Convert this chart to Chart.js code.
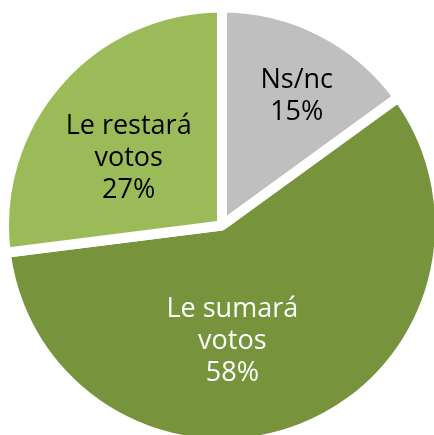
<!DOCTYPE html>
<html>
<head>
<meta charset="utf-8">
<title>Votos</title>
<script src="https://cdn.jsdelivr.net/npm/chart.js@4"></script>
<style>
  html, body { margin: 0; padding: 0; background: #fff; }
  canvas { display: block; }
</style>
</head>
<body>
<canvas id="myChart" width="434" height="435"></canvas>
<script>
// Datos del gráfico
const categories = [['Ns/nc'], ['Le sumará', 'votos'], ['Le restará', 'votos']];
const values = [15, 58, 27];

const sliceColors = ['#BFBFBF', '#77933C', '#9BBB59'];
const textColors = ['#000000', '#ffffff', '#000000'];
// posición de cada etiqueta: ángulo (grados desde arriba) y fracción del radio
const labelAngles = [29.8, 174.8, 306.4];
const labelRadius = [0.69, 0.524, 0.532];

const pieLabels = {
  id: 'pieLabels',
  afterDatasetsDraw(chart) {
    const ctx = chart.ctx;
    const meta = chart.getDatasetMeta(0);
    ctx.save();
    ctx.font = '27px "Open Sans"';
    ctx.textAlign = 'center';
    ctx.textBaseline = 'alphabetic';
    meta.data.forEach((arc, i) => {
      const a = (labelAngles[i] - 90) * Math.PI / 180;
      const r = arc.outerRadius * labelRadius[i];
      const cx = arc.x + Math.cos(a) * r;
      const cy = arc.y + Math.sin(a) * r;
      const lines = categories[i].concat([values[i] + '%']);
      const lineHeight = 32;
      ctx.fillStyle = textColors[i];
      lines.forEach((line, j) => {
        // 9.5 = media altura de mayúscula, para centrar cada línea
        ctx.fillText(line, cx, cy + 9.5 + (j - (lines.length - 1) / 2) * lineHeight);
      });
    });
    ctx.restore();
  }
};

const ctx = document.getElementById('myChart').getContext('2d');
const myChart = new Chart(ctx, {
  type: 'pie',
  data: {
    labels: categories,
    datasets: [{
      data: values,
      backgroundColor: sliceColors,
      borderColor: '#ffffff',
      borderWidth: 10,
      radius: 218,
      clip: false
    }]
  },
  options: {
    responsive: false,
    animation: false,
    events: [],
    layout: {
      padding: { left: 10, top: 16, right: 0, bottom: 0 }
    },
    plugins: {
      legend: { display: false },
      tooltip: { enabled: false }
    }
  },
  plugins: [pieLabels]
});
</script>
</body>
</html>
